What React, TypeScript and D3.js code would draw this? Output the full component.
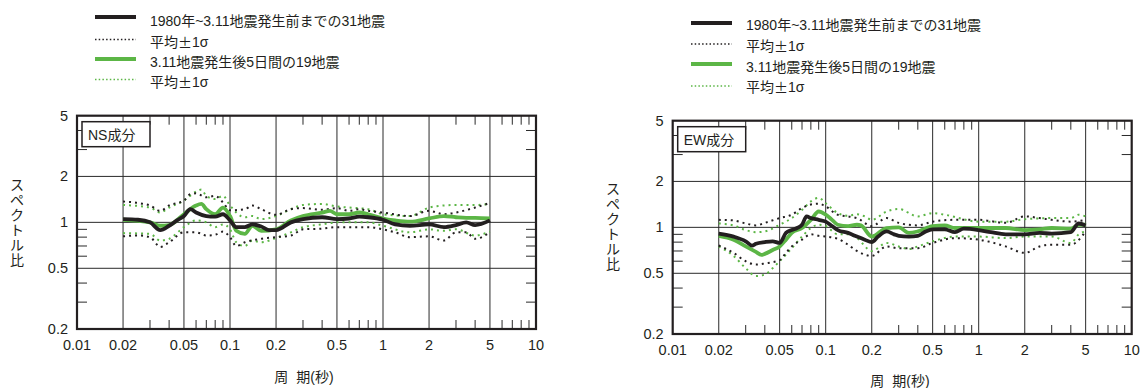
import React from "react";
import * as d3 from "d3";

type Pt = [number, number];

// ---- tick labels ----
const xTickLabels = [0.01, 0.02, 0.05, 0.1, 0.2, 0.5, 1, 2, 5, 10];
const xGrid = [0.02, 0.05, 0.1, 0.2, 0.5, 1, 2, 5];
const xMinor = [0.03, 0.04, 0.06, 0.07, 0.08, 0.09, 0.3, 0.4, 0.6, 0.7, 0.8, 0.9, 3, 4, 6, 7, 8, 9];
const yTickLabels = [0.2, 0.5, 1, 2, 5];
const yGrid = [0.5, 1, 2];
const yMinor = [0.3, 0.4, 0.6, 0.7, 0.8, 0.9, 3, 4];

const legendLabels = [
  "1980年~3.11地震発生前までの31地震",
  "平均±1σ",
  "3.11地震発生後5日間の19地震",
  "平均±1σ",
];

// ---- NS component ----
const nsBeforeMean: Pt[] = [
  [0.02, 1.05], [0.025, 1.04], [0.03, 1.0], [0.035, 0.89], [0.04, 0.95], [0.045, 1.03], [0.05, 1.1],
  [0.055, 1.22], [0.06, 1.16], [0.07, 1.1], [0.08, 1.09], [0.09, 1.13], [0.1, 1.03], [0.11, 0.93],
  [0.125, 0.93], [0.14, 0.97], [0.16, 0.94], [0.18, 0.89], [0.2, 0.89], [0.25, 1.0], [0.3, 1.05],
  [0.4, 1.08], [0.5, 1.05], [0.6, 1.06], [0.7, 1.09], [0.8, 1.08], [1, 1.04], [1.2, 0.97], [1.5, 0.95],
  [2, 0.97], [2.5, 0.93], [3, 0.96], [3.5, 1.0], [4, 0.96], [5, 1.03],
];
const nsBeforeUpper: Pt[] = [
  [0.02, 1.37], [0.025, 1.34], [0.03, 1.29], [0.035, 1.19], [0.04, 1.29], [0.05, 1.39], [0.055, 1.53],
  [0.06, 1.55], [0.07, 1.46], [0.08, 1.49], [0.09, 1.35], [0.1, 1.2], [0.125, 1.22], [0.14, 1.29],
  [0.16, 1.22], [0.2, 1.12], [0.25, 1.22], [0.3, 1.24], [0.4, 1.21], [0.5, 1.24], [0.6, 1.19],
  [0.7, 1.22], [0.8, 1.19], [1, 1.16], [1.5, 1.1], [2, 1.19], [2.5, 1.13], [3, 1.16], [4, 1.25], [5, 1.34],
];
const nsBeforeLower: Pt[] = [
  [0.02, 0.81], [0.025, 0.82], [0.03, 0.8], [0.035, 0.69], [0.04, 0.74], [0.05, 0.86], [0.06, 0.86],
  [0.07, 0.82], [0.08, 0.83], [0.09, 0.87], [0.1, 0.8], [0.11, 0.7], [0.125, 0.74], [0.16, 0.78],
  [0.2, 0.8], [0.25, 0.82], [0.3, 0.9], [0.4, 0.91], [0.5, 0.93], [0.6, 0.93], [0.7, 0.93], [0.8, 0.93],
  [1, 0.9], [1.2, 0.86], [1.5, 0.8], [2, 0.81], [2.5, 0.76], [3, 0.86], [3.5, 0.86], [4, 0.78], [5, 0.86],
];
const nsAfterMean: Pt[] = [
  [0.02, 1.04], [0.03, 1.0], [0.035, 0.95], [0.04, 0.96], [0.05, 1.13], [0.06, 1.29], [0.065, 1.32],
  [0.07, 1.22], [0.08, 1.13], [0.09, 1.25], [0.1, 1.1], [0.11, 0.88], [0.125, 0.84], [0.14, 0.95],
  [0.16, 0.88], [0.2, 0.9], [0.25, 1.03], [0.3, 1.1], [0.4, 1.16], [0.45, 1.19], [0.5, 1.13], [0.6, 1.13],
  [0.7, 1.16], [0.8, 1.13], [1, 1.06], [1.2, 1.03], [1.5, 1.01], [2, 1.06], [2.5, 1.1], [3, 1.08],
  [3.5, 1.07], [4, 1.07], [5, 1.06],
];
const nsAfterUpper: Pt[] = [
  [0.02, 1.3], [0.03, 1.25], [0.035, 1.16], [0.04, 1.25], [0.05, 1.39], [0.06, 1.59], [0.065, 1.64],
  [0.07, 1.49], [0.08, 1.42], [0.09, 1.49], [0.1, 1.29], [0.125, 1.08], [0.14, 1.1], [0.16, 1.05],
  [0.2, 1.1], [0.25, 1.22], [0.3, 1.3], [0.4, 1.32], [0.5, 1.27], [0.6, 1.25], [0.8, 1.22], [1, 1.13],
  [1.5, 1.1], [2, 1.25], [2.5, 1.29], [3, 1.3], [4, 1.3], [5, 1.32],
];
const nsAfterLower: Pt[] = [
  [0.02, 0.85], [0.03, 0.84], [0.035, 0.76], [0.04, 0.78], [0.05, 0.93], [0.06, 1.03], [0.07, 1.0],
  [0.08, 0.93], [0.09, 0.97], [0.1, 0.9], [0.11, 0.74], [0.125, 0.7], [0.14, 0.76], [0.16, 0.74],
  [0.2, 0.79], [0.25, 0.86], [0.3, 0.93], [0.4, 0.97], [0.5, 1.0], [0.6, 1.0], [0.8, 1.0], [1, 0.95],
  [1.5, 0.86], [2, 0.9], [2.5, 0.88], [3, 0.9], [4, 0.82], [5, 0.87],
];

// ---- EW component ----
const ewBeforeMean: Pt[] = [
  [0.02, 0.91], [0.025, 0.87], [0.03, 0.81], [0.033, 0.76], [0.035, 0.78], [0.04, 0.8], [0.045, 0.81],
  [0.05, 0.79], [0.055, 0.92], [0.06, 0.96], [0.065, 0.99], [0.07, 1.04], [0.075, 1.18], [0.08, 1.15],
  [0.09, 1.12], [0.1, 1.09], [0.11, 1.02], [0.12, 0.96], [0.14, 0.92], [0.16, 0.87], [0.18, 0.83],
  [0.2, 0.8], [0.22, 0.87], [0.25, 0.94], [0.28, 0.9], [0.3, 0.88], [0.35, 0.87], [0.4, 0.88],
  [0.45, 0.94], [0.5, 0.97], [0.6, 0.97], [0.7, 0.93], [0.8, 0.98], [1, 0.96], [1.2, 0.93], [1.5, 0.9],
  [2, 0.9], [2.5, 0.92], [3, 0.91], [4, 0.93], [4.5, 1.06], [5, 1.03],
];
const ewBeforeUpper: Pt[] = [
  [0.02, 1.12], [0.025, 1.11], [0.03, 1.06], [0.035, 1.03], [0.04, 1.07], [0.05, 1.15], [0.06, 1.21],
  [0.07, 1.34], [0.08, 1.41], [0.09, 1.43], [0.1, 1.37], [0.12, 1.21], [0.14, 1.18], [0.16, 1.15],
  [0.2, 1.02], [0.25, 1.15], [0.3, 1.07], [0.4, 1.03], [0.5, 1.09], [0.7, 1.12], [1, 1.12], [1.5, 1.07],
  [2, 1.18], [2.5, 1.15], [3, 1.12], [4, 1.09], [5, 1.12],
];
const ewBeforeLower: Pt[] = [
  [0.02, 0.76], [0.025, 0.68], [0.03, 0.6], [0.035, 0.57], [0.04, 0.58], [0.05, 0.61], [0.055, 0.68],
  [0.06, 0.75], [0.07, 0.83], [0.08, 0.9], [0.09, 0.88], [0.1, 0.87], [0.12, 0.84], [0.14, 0.77],
  [0.16, 0.7], [0.2, 0.65], [0.25, 0.75], [0.3, 0.73], [0.4, 0.73], [0.5, 0.79], [0.7, 0.85], [1, 0.83],
  [1.5, 0.75], [2, 0.68], [2.5, 0.75], [3, 0.77], [4, 0.77], [5, 0.94],
];
const ewAfterMean: Pt[] = [
  [0.02, 0.88], [0.025, 0.83], [0.03, 0.75], [0.035, 0.69], [0.038, 0.66], [0.04, 0.67], [0.045, 0.71],
  [0.05, 0.75], [0.055, 0.83], [0.06, 0.92], [0.07, 0.99], [0.08, 1.12], [0.09, 1.27], [0.1, 1.21],
  [0.11, 1.12], [0.12, 1.04], [0.14, 1.02], [0.16, 1.04], [0.17, 1.03], [0.2, 0.87], [0.25, 0.99],
  [0.3, 1.0], [0.35, 0.92], [0.4, 0.94], [0.5, 1.02], [0.6, 1.03], [0.7, 0.99], [0.8, 0.99], [1, 0.99],
  [1.5, 0.99], [2, 0.96], [2.5, 0.97], [3, 0.99], [4, 0.98], [4.5, 1.04], [5, 1.04],
];
const ewAfterUpper: Pt[] = [
  [0.02, 1.06], [0.025, 1.03], [0.03, 0.96], [0.035, 0.93], [0.04, 0.94], [0.05, 1.04], [0.06, 1.15],
  [0.07, 1.3], [0.08, 1.48], [0.09, 1.56], [0.1, 1.44], [0.12, 1.24], [0.14, 1.19], [0.16, 1.22],
  [0.18, 1.18], [0.2, 1.12], [0.25, 1.27], [0.3, 1.32], [0.4, 1.18], [0.5, 1.24], [0.6, 1.21], [1, 1.09],
  [1.5, 1.09], [2, 1.13], [3, 1.15], [4, 1.15], [4.5, 1.21], [5, 1.18],
];
const ewAfterLower: Pt[] = [
  [0.02, 0.75], [0.025, 0.65], [0.03, 0.54], [0.035, 0.48], [0.04, 0.49], [0.045, 0.54], [0.05, 0.6],
  [0.06, 0.73], [0.07, 0.87], [0.08, 0.99], [0.09, 1.04], [0.1, 1.02], [0.12, 0.9], [0.14, 0.9],
  [0.16, 0.85], [0.2, 0.7], [0.25, 0.79], [0.3, 0.75], [0.35, 0.72], [0.4, 0.75], [0.5, 0.81], [0.7, 0.87],
  [1, 0.87], [1.5, 0.85], [2, 0.87], [3, 0.87], [4, 0.79], [4.5, 0.9], [5, 0.94],
];

const BLACK = "#231f20";
const GREEN = "#5cb646";
const FONT = "'Liberation Sans', Arial, 'Noto Sans CJK JP', sans-serif";
const CJK = "'Noto Sans CJK JP', sans-serif";

type PanelProps = {
  left: number;
  top: number;
  right: number;
  bottom: number;
  label: string;
  legendLineX: number;
  legendTextX: number;
  legendLineY: number[];
  legendTextY: number[];
  titleX: number;
  titleY: number;
  yTitleX: number;
  yTitleY0: number;
  beforeMean: Pt[];
  beforeUpper: Pt[];
  beforeLower: Pt[];
  afterMean: Pt[];
  afterUpper: Pt[];
  afterLower: Pt[];
};

function LegendText({ t }: { t: string }) {
  // render the ± sign with the CJK (full-width) glyph as in the reference
  const parts = t.split("±");
  if (parts.length === 1) return <>{t}</>;
  return (
    <>
      {parts[0]}
      <tspan fontFamily={CJK}>±</tspan>
      {parts[1]}
    </>
  );
}

function Panel(p: PanelProps) {
  const x = d3.scaleLog().domain([0.01, 10]).range([p.left, p.right]);
  const y = d3.scaleLog().domain([0.2, 5]).range([p.bottom, p.top]);
  const line = d3
    .line<Pt>()
    .x((d) => x(d[0]))
    .y((d) => y(d[1]))
    .curve(d3.curveMonotoneX);
  const tick = 9;
  const yChars = Array.from("スペクトル比");
  const legendStyles = [
    { stroke: BLACK, w: 4, dash: undefined as string | undefined },
    { stroke: BLACK, w: 1.5, dash: "1.5 2.2" },
    { stroke: GREEN, w: 4, dash: undefined },
    { stroke: GREEN, w: 1.5, dash: "1.5 2.2" },
  ];
  return (
    <g fontFamily={FONT}>
      {/* legend */}
      {legendLabels.map((t, i) => (
        <g key={"lg" + i}>
          <line
            x1={p.legendLineX}
            x2={p.legendLineX + 41}
            y1={p.legendLineY[i]}
            y2={p.legendLineY[i]}
            stroke={legendStyles[i].stroke}
            strokeWidth={legendStyles[i].w}
            strokeDasharray={legendStyles[i].dash}
          />
          <text x={p.legendTextX} y={p.legendTextY[i]} dominantBaseline="central" fontSize={14} fill={BLACK}>
            <LegendText t={t} />
          </text>
        </g>
      ))}
      {/* grid */}
      {xGrid.map((v) => (
        <line key={"gx" + v} x1={x(v)} x2={x(v)} y1={p.top} y2={p.bottom} stroke="#2a2a2a" strokeWidth={1} />
      ))}
      {yGrid.map((v) => (
        <line key={"gy" + v} x1={p.left} x2={p.right} y1={y(v)} y2={y(v)} stroke="#2a2a2a" strokeWidth={1} />
      ))}
      {/* minor ticks */}
      {xMinor.map((v) => (
        <g key={"mx" + v}>
          <line x1={x(v)} x2={x(v)} y1={p.bottom} y2={p.bottom - tick} stroke="#2a2a2a" strokeWidth={1} />
          <line x1={x(v)} x2={x(v)} y1={p.top} y2={p.top + tick} stroke="#2a2a2a" strokeWidth={1} />
        </g>
      ))}
      {yMinor.map((v) => (
        <g key={"my" + v}>
          <line x1={p.left} x2={p.left + 10} y1={y(v)} y2={y(v)} stroke="#2a2a2a" strokeWidth={1} />
          <line x1={p.right} x2={p.right - 10} y1={y(v)} y2={y(v)} stroke="#2a2a2a" strokeWidth={1} />
        </g>
      ))}
      {/* series */}
      <path d={line(p.afterUpper) || ""} fill="none" stroke={GREEN} strokeWidth={2} strokeDasharray="2 4" />
      <path d={line(p.afterLower) || ""} fill="none" stroke={GREEN} strokeWidth={2} strokeDasharray="2 4" />
      <path d={line(p.beforeUpper) || ""} fill="none" stroke={BLACK} strokeWidth={2} strokeDasharray="2 4" />
      <path d={line(p.beforeLower) || ""} fill="none" stroke={BLACK} strokeWidth={2} strokeDasharray="2 4" />
      <path d={line(p.afterMean) || ""} fill="none" stroke={GREEN} strokeWidth={3.8} strokeLinejoin="round" />
      <path d={line(p.beforeMean) || ""} fill="none" stroke={BLACK} strokeWidth={3.8} strokeLinejoin="round" />
      {/* frame */}
      <rect
        x={p.left}
        y={p.top}
        width={p.right - p.left}
        height={p.bottom - p.top}
        fill="none"
        stroke={BLACK}
        strokeWidth={2.2}
      />
      {/* component label box */}
      <rect x={p.left + 5} y={p.top + 6} width={68} height={25} fill="#fff" stroke={BLACK} strokeWidth={1.5} />
      <text x={p.left + 11} y={p.top + 19} dominantBaseline="central" fontSize={14} fill={BLACK}>
        {p.label}
      </text>
      {/* tick labels */}
      {xTickLabels.map((v) => (
        <text
          key={"tx" + v}
          x={x(v)}
          y={p.bottom + 16}
          textAnchor="middle"
          dominantBaseline="central"
          fontSize={14.5}
          fill={BLACK}
        >
          {String(v)}
        </text>
      ))}
      {yTickLabels.map((v) => (
        <text
          key={"ty" + v}
          x={p.left - 9}
          y={y(v)}
          textAnchor="end"
          dominantBaseline="central"
          fontSize={14.5}
          fill={BLACK}
        >
          {String(v)}
        </text>
      ))}
      {/* axis titles */}
      <text x={p.titleX} y={p.titleY} textAnchor="middle" dominantBaseline="central" fontSize={14} fill={BLACK}>
        <tspan>周</tspan>
        <tspan dx={8}>期(秒)</tspan>
      </text>
      {yChars.map((c, i) => (
        <text
          key={"yc" + i}
          x={p.yTitleX}
          y={p.yTitleY0 + i * 15}
          textAnchor="middle"
          dominantBaseline="central"
          fontSize={14}
          fill={BLACK}
        >
          {c}
        </text>
      ))}
    </g>
  );
}

export default function App() {
  return (
    <svg
      width={1141}
      height={388}
      style={{ position: "absolute", left: 0, top: 0, background: "#fff" }}
    >
      <rect x={0} y={0} width={1141} height={388} fill="#fff" />
      <Panel
        left={77}
        top={115.7}
        right={536}
        bottom={329}
        label="NS成分"
        legendLineX={95}
        legendTextX={150}
        legendLineY={[17, 39.5, 59, 79.5]}
        legendTextY={[21, 42, 62, 81.5]}
        titleX={304}
        titleY={377}
        yTitleX={17}
        yTitleY0={185}
        beforeMean={nsBeforeMean}
        beforeUpper={nsBeforeUpper}
        beforeLower={nsBeforeLower}
        afterMean={nsAfterMean}
        afterUpper={nsAfterUpper}
        afterLower={nsAfterLower}
      />
      <Panel
        left={672.7}
        top={120.7}
        right={1131.7}
        bottom={334}
        label="EW成分"
        legendLineX={691}
        legendTextX={746}
        legendLineY={[23, 44, 64, 86]}
        legendTextY={[25, 46, 67, 87]}
        titleX={900}
        titleY={381}
        yTitleX={613}
        yTitleY0={189}
        beforeMean={ewBeforeMean}
        beforeUpper={ewBeforeUpper}
        beforeLower={ewBeforeLower}
        afterMean={ewAfterMean}
        afterUpper={ewAfterUpper}
        afterLower={ewAfterLower}
      />
    </svg>
  );
}
